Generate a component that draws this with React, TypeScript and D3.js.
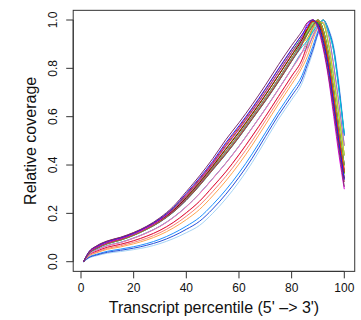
import React from "react";
import * as d3 from "d3";

const percentiles = [1, 3, 6, 10, 15, 20, 25, 30, 35, 40, 45, 50, 55, 60, 65, 70, 75, 80, 84, 86, 88, 90, 92, 94, 96, 98, 100];

const s01 = [0, .04, .066, .086, .101, .121, .147, .182, .228, .29, .355, .426, .505, .575, .65, .73, .815, .895, .955, .99, 1.0, .97, .89, .77, .62, .46, .31];
const s02 = [0, .041, .064, .084, .099, .118, .145, .178, .223, .283, .346, .415, .492, .562, .636, .715, .798, .879, .94, .975, 1.0, .98, .91, .80, .65, .49, .34];
const s03 = [0, .037, .06, .08, .095, .115, .14, .173, .216, .272, .335, .403, .477, .547, .622, .70, .783, .865, .93, .985, 1.0, .965, .88, .76, .60, .44, .30];
const s04 = [0, .038, .06, .08, .095, .116, .141, .172, .212, .265, .327, .394, .465, .535, .61, .688, .77, .853, .92, .965, .995, .985, .915, .805, .655, .495, .345];
const s05 = [0, .04, .065, .085, .1, .12, .145, .178, .222, .279, .342, .41, .486, .556, .632, .712, .796, .877, .94, .965, .995, .995, .94, .83, .68, .52, .37];
const s06 = [0, .036, .06, .081, .097, .117, .142, .175, .218, .274, .337, .405, .479, .549, .624, .702, .785, .867, .93, .962, .995, .99, .935, .825, .675, .515, .365];
const s07 = [0, .035, .057, .077, .092, .112, .137, .168, .209, .261, .322, .388, .456, .526, .601, .677, .757, .842, .91, .945, .98, 1.0, .96, .86, .71, .55, .40];
const s08 = [0, .037, .059, .079, .094, .114, .139, .171, .213, .267, .329, .396, .467, .537, .612, .689, .771, .854, .92, .95, .985, 1.0, .955, .855, .705, .545, .395];
const s09 = [0, .036, .058, .076, .091, .111, .136, .167, .208, .26, .32, .386, .454, .524, .6, .675, .755, .84, .905, .925, .965, .995, .985, .90, .76, .60, .44];
const s10 = [0, .031, .049, .067, .08, .098, .12, .147, .183, .228, .282, .344, .408, .478, .554, .632, .714, .798, .868, .905, .955, .99, .985, .90, .76, .60, .44];
const s11 = [0, .035, .055, .075, .09, .11, .135, .165, .205, .255, .315, .38, .445, .515, .59, .665, .745, .83, .90, .94, .975, 1.0, .96, .86, .71, .55, .40];
const s12 = [0, .034, .056, .074, .089, .109, .134, .166, .206, .257, .316, .382, .448, .518, .592, .668, .748, .832, .902, .945, .99, .995, .94, .83, .68, .52, .37];
const s13 = [0, .036, .057, .077, .092, .112, .137, .168, .209, .262, .322, .388, .456, .526, .601, .677, .757, .842, .91, .965, 1.0, .98, .91, .80, .65, .49, .34];
const s14 = [0, .031, .049, .067, .08, .098, .12, .147, .183, .228, .282, .344, .408, .478, .554, .632, .714, .798, .868, .885, .93, .975, 1.0, .94, .81, .65, .48];
const s15 = [0, .027, .043, .059, .071, .086, .105, .129, .161, .201, .249, .308, .371, .441, .518, .599, .683, .766, .836, .89, .945, .99, .985, .90, .76, .60, .44];
const s16 = [0, .023, .037, .051, .061, .074, .09, .111, .139, .174, .216, .272, .334, .404, .482, .566, .652, .734, .804, .85, .915, .97, 1.0, .94, .81, .65, .48];
const s17 = [0, .028, .044, .06, .072, .087, .106, .13, .162, .203, .25, .31, .372, .443, .52, .6, .684, .768, .838, .90, .965, 1.0, .95, .84, .69, .53, .38];
const s18 = [0, .03, .048, .066, .079, .097, .119, .146, .182, .227, .281, .343, .407, .477, .553, .631, .713, .797, .867, .92, .97, 1.0, .96, .86, .71, .55, .40];
const s19 = [0, .019, .031, .043, .052, .062, .075, .093, .117, .147, .183, .236, .297, .367, .446, .533, .621, .702, .772, .83, .89, .955, 1.0, .955, .87, .71, .52];
const s20 = [0, .015, .025, .035, .042, .05, .06, .075, .095, .12, .15, .20, .26, .33, .41, .50, .59, .67, .74, .80, .865, .94, 1.0, .965, .89, .735, .53];
const s21 = [0, .017, .028, .039, .047, .056, .068, .084, .106, .134, .167, .218, .279, .349, .428, .517, .606, .686, .756, .815, .875, .945, 1.0, .96, .88, .72, .525];
const s22 = [0, .035, .056, .076, .091, .111, .136, .166, .206, .256, .317, .382, .447, .517, .592, .667, .747, .832, .902, .96, 1.0, .975, .905, .79, .64, .48, .33];
const s23 = [0, .034, .054, .074, .089, .109, .134, .164, .204, .254, .314, .379, .444, .514, .589, .664, .744, .829, .89, .915, .95, .98, 1.0, .95, .87, .705, .53];
const s24 = [0, .038, .06, .08, .095, .115, .14, .171, .214, .268, .33, .397, .468, .538, .613, .69, .772, .855, .922, .96, .995, .99, .935, .825, .675, .515, .365];
const s25 = [0, .025, .04, .055, .066, .08, .097, .12, .15, .188, .233, .29, .353, .423, .5, .583, .668, .75, .82, .875, .935, .985, .99, .90, .76, .60, .44];

const seriesValues = [s20, s19, s21, s16, s25, s15, s17, s14, s10, s18, s23, s11, s12, s09, s07, s13, s22, s08, s24, s06, s04, s05, s03, s02, s01];
const seriesColors = [
  "#A4D3F5", "#1E90FF", "#2850D8", "#FFA54F", "#FA8072", "#FFB6C1", "#DC143C", "#9370DB", "#40E0D0", "#FF69B4",
  "#00CED1", "#A0522D", "#6B8E23", "#D4D400", "#2E8B57", "#8C8C8C", "#B03060", "#9ACD32", "#7CCD00", "#00C800",
  "#8B0000", "#FF2020", "#E000E0", "#2020FF", "#7B2D6B",
];

const xTicks = [0, 20, 40, 60, 80, 100];
const yTicks = [0, 0.2, 0.4, 0.6, 0.8, 1.0];

export default function App() {
  const W = 361, H = 320;
  const x = d3.scaleLinear().domain([0, 100]).range([81, 344.3]);
  const y = d3.scaleLinear().domain([0, 1]).range([261.7, 20]);
  const boxL = x(-2.96), boxR = x(103.96), boxT = y(1.04), boxB = y(-0.04);
  const line = d3.line<number>()
    .x((_, i) => x(percentiles[i]))
    .y((d) => y(d))
    .curve(d3.curveMonotoneX);
  const font = "'Liberation Sans', Arial, Helvetica, sans-serif";
  const tick = 7;
  return (
    <svg width={W} height={H} style={{ position: "absolute", left: 0, top: 0, background: "#fff" }} fontFamily={font}>
      <rect x={0} y={0} width={W} height={H} fill="#fff" />
      {seriesValues.map((vals, i) => (
        <path key={i} d={line(vals) || ""} fill="none" stroke={seriesColors[i]} strokeWidth={1} />
      ))}
      <rect x={boxL} y={boxT} width={boxR - boxL} height={boxB - boxT} fill="none" stroke="#333" strokeWidth={1} />
      {/* x axis */}
      <line x1={x(0)} x2={x(100)} y1={boxB} y2={boxB} stroke="#333" />
      {xTicks.map((t) => (
        <g key={t}>
          <line x1={x(t)} x2={x(t)} y1={boxB} y2={boxB + tick} stroke="#333" />
          <text x={x(t)} y={292} textAnchor="middle" fontSize={12} fill="#111">{t}</text>
        </g>
      ))}
      {/* y axis */}
      <line x1={boxL} x2={boxL} y1={y(0)} y2={y(1)} stroke="#333" />
      {yTicks.map((t) => (
        <g key={t}>
          <line x1={boxL - tick} x2={boxL} y1={y(t)} y2={y(t)} stroke="#333" />
          <text transform={`translate(57,${y(t)}) rotate(-90)`} textAnchor="middle" fontSize={12} fill="#111">{t.toFixed(1)}</text>
        </g>
      ))}
      <text x={(boxL + boxR) / 2} y={313} textAnchor="middle" fontSize={16} fill="#111">Transcript percentile (5' –&gt; 3')</text>
      <text transform={`translate(36,${(boxT + boxB) / 2}) rotate(-90)`} textAnchor="middle" fontSize={16} fill="#111">Relative coverage</text>
    </svg>
  );
}
